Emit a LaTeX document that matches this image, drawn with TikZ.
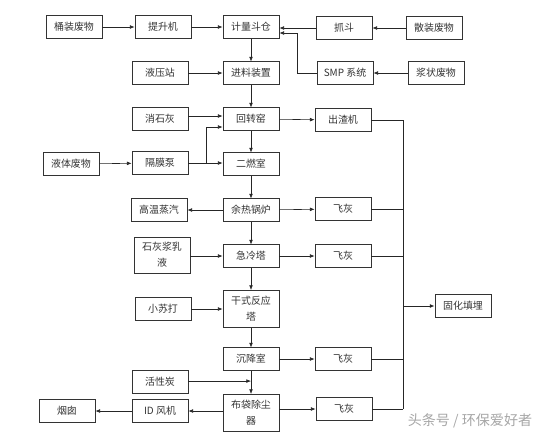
\documentclass[tikz,border=0pt]{standalone}
\usepackage{fontspec}
\newfontfamily\cjk{Noto Sans CJK SC}
\usetikzlibrary{arrows.meta,positioning,calc}

\tikzset{
  box/.style={draw=black!80, line width=0.6pt, minimum width=1.68cm, minimum height=0.67cm,
    inner sep=1pt, align=center, text=black!80, font=\cjk\fontsize{8.5}{13.5}\selectfont},
  tall/.style={box, minimum height=1.12cm},
  arr/.style={draw=black!85, line width=0.5pt, -{Latex[length=4pt,width=3.2pt]}},
  ln/.style={draw=black!85, line width=0.5pt},
}

\begin{document}
\begin{tikzpicture}[x=0.03cm, y=-0.03cm]
  \useasboundingbox (0,0) rectangle (553,437);
  % feed side
  \node[box] (barrel) at (74,27) {桶装废物};
  \node[box] (lift) at (163,27) {提升机};
  \node[box] (hopper) at (251,27) {计量斗仓};
  \node[box] (grab) at (344,28) {抓斗};
  \node[box] (bulk) at (434,28) {散装废物};
  \node[box] (hyd) at (160,73) {液压站};
  \node[box] (feed) at (251,73) {进料装置};
  \node[box] (smp) at (345,73) {SMP 系统};
  \node[box] (slurry) at (436,73) {浆状废物};
  \node[box] (lime) at (160,119) {消石灰};
  \node[box] (kiln) at (251,119) {回转窑};
  \node[box] (slag) at (343,120) {出渣机};
  \node[box] (liquid) at (71,164) {液体废物};
  \node[box] (pump) at (160,163) {隔膜泵};
  \node[box] (scc) at (251,164) {二燃室};
  % flue gas line
  \node[box] (steam) at (159,210) {高温蒸汽};
  \node[box] (boiler) at (251,210) {余热锅炉};
  \node[box] (ash1) at (343,209) {飞灰};
  \node[tall, minimum height=1.08cm] (milk) at (162,255) {石灰浆乳\\液};
  \node[box] (quench) at (251,256) {急冷塔};
  \node[box] (ash2) at (343,256) {飞灰};
  \node[box] (soda) at (163,309) {小苏打};
  \node[tall] (dry) at (251,309) {干式反应\\塔};
  \node[box] (settle) at (251,359) {沉降室};
  \node[box] (ash3) at (343,359) {飞灰};
  \node[box] (carbon) at (160,382) {活性炭};
  \node[tall] (bag) at (251,413) {布袋除尘\\器};
  \node[box] (fan) at (160,411) {ID 风机};
  \node[box] (stack) at (67,411) {烟囱};
  \node[box] (ash4) at (344,409) {飞灰};
  \node[box] (solid) at (463,306) {固化填埋};
  \coordinate (j1) at (206,163);
  \coordinate (j2) at ($(settle.south)!0.45!(bag.north)$);
  \coordinate (bustop) at (403,120);
  \coordinate (busbot) at (403,409);

  % main chain
  \draw[arr] (barrel) -- (lift);
  \draw[arr] (lift) -- (hopper);
  \foreach \a/\b in {hopper/feed, feed/kiln, kiln/scc, scc/boiler, boiler/quench, quench/dry, dry/settle, settle/bag}
    \draw[arr] (\a) -- (\b);
  \draw[arr] (bulk) -- (grab);
  \draw[arr] (grab.west) -- (grab.west -| hopper.east);
  \draw[arr] (slurry) -- (smp);
  \draw[arr] (smp.west) -- ++(-19,0) |- ($(hopper.east)+(0,6)$);
  \draw[arr] (hyd) -- (feed);
  \draw[arr] ($(lime.east)+(0,-3)$) -- ($(kiln.west)+(0,-3)$);
  \draw[arr] (liquid) -- (pump);
  \draw[ln] (pump.east) -- (j1);
  \draw[arr] (j1) -- (j1 -| scc.west);
  \draw[arr] (j1) |- ($(kiln.west)+(0,8)$);
  \draw[arr] (kiln) -- (slag);
  \draw[arr] (boiler) -- (steam);
  \draw[arr] (boiler) -- (ash1);
  \draw[arr] (milk.east |- quench.west) -- (quench.west);
  \draw[arr] (quench) -- (ash2);
  \draw[arr] (soda) -- (dry);
  \draw[arr] (settle) -- (ash3);
  \draw[arr] (carbon.east |- j2) -- (j2);
  \draw[arr] (bag.east |- ash4.west) -- (ash4.west);
  \draw[arr] (bag.west |- fan.east) -- (fan.east);
  \draw[arr] (fan) -- (stack);
  % ash collection
  \draw[ln] (slag.east) -- (bustop) -- (busbot);
  \foreach \n in {ash1, ash2, ash3, ash4}
    \draw[ln] (\n.east) -- (\n.east -| bustop);
  \draw[arr, line width=0.8pt] (bustop |- solid.west) -- (solid.west);

  \node[text=black!35, font=\cjk\fontsize{12}{14}\selectfont] (mark) at (470,421) {头条号 / 环保爱好者};
\end{tikzpicture}
\end{document}
